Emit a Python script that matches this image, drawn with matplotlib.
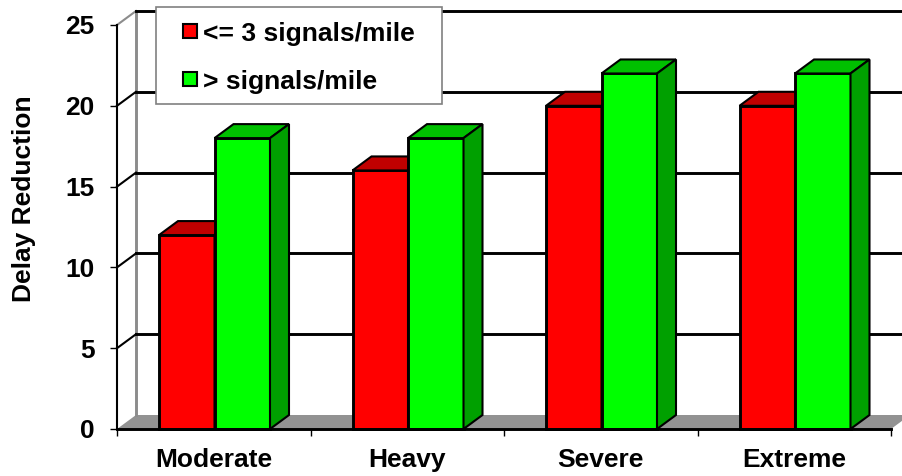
import matplotlib
matplotlib.use('Agg')
import matplotlib.pyplot as plt
from matplotlib.patches import Rectangle

plt.rcParams['font.family'] = ['Liberation Sans', 'DejaVu Sans']
plt.rcParams['font.weight'] = 'bold'
plt.rcParams['font.size'] = 19

categories = ['Moderate', 'Heavy', 'Severe', 'Extreme']
low_signals = [12, 16, 20, 20]
high_signals = [18, 18, 22, 22]
series_names = ['<= 3 signals/mile', '> signals/mile']
series_colors = ['#ff0000', '#00ff00']
yticks = [0, 5, 10, 15, 20, 25]

W, H = 902, 476
fig = plt.figure(figsize=(W / 100, H / 100), dpi=100, facecolor='white')
# front plane of the fake 3d box, in pixels: x 117-891, y 25-429
ax = fig.add_axes([117 / W, 1 - 429 / H, 774 / W, 404 / H])
ax.set_xlim(0, 4)
ax.set_ylim(0, 25)
ax.patch.set_visible(False)

# depth of the 3d effect in data units
dx = 19 / 193.5
dy = 14 / 16.16
lw = 2.1
xmax = 4

# floor and walls
ax.fill([0, dx, xmax + dx, xmax], [0, dy, dy, 0], color='#929292', lw=0, zorder=1, clip_on=False)
ax.plot([dx, dx], [dy, 25 + dy], color='#8c8c8c', lw=lw, zorder=1.5, clip_on=False)
ax.plot([0, dx], [25, 25 + dy], color='#8c8c8c', lw=1.5, zorder=1.5, clip_on=False)

# gridlines on the back wall plus the diagonal on the side wall
for v in yticks[1:]:
    ax.plot([dx, xmax + dx], [v + dy, v + dy], color='black', lw=lw, zorder=2, clip_on=False)
    if v < 25:
        ax.plot([0, dx], [v, v + dy], color='black', lw=1.5, zorder=2, clip_on=False)


def bar3d(x, w, h, front, top, side, z):
    ax.bar(x, h, w, align='edge', color=front, edgecolor='black', lw=lw, zorder=z, clip_on=False)
    ax.fill([x, x + dx, x + w + dx, x + w], [h, h + dy, h + dy, h], facecolor=top,
            edgecolor='black', lw=1.5, zorder=z, clip_on=False)
    ax.fill([x + w, x + w + dx, x + w + dx, x + w], [0, dy, h + dy, h], facecolor=side,
            edgecolor='black', lw=1.5, zorder=z, clip_on=False)


bar_w = 55.5 / 193.5
offset = 42 / 193.5
z = 3
for i in range(len(categories)):
    bar3d(i + offset, bar_w, low_signals[i], '#ff0000', '#c00000', '#a00000', z)
    bar3d(i + offset + bar_w, bar_w, high_signals[i], '#00ff00', '#00c000', '#00a000', z + 1)
    z += 2

# axes and ticks
for s in ['top', 'right']:
    ax.spines[s].set_visible(False)
ax.spines['bottom'].set_linewidth(lw)
ax.spines['bottom'].set_zorder(20)
ax.spines['left'].set_linewidth(1.5)
ax.spines['left'].set_zorder(20)

ax.set_yticks(yticks)
ax.tick_params(axis='y', length=5, width=1, pad=11)
ax.set_xticks(range(5))
ax.set_xticklabels([])
ax.set_xticks([i + 0.5 for i in range(4)], minor=True)
ax.set_xticklabels(categories, minor=True)
ax.tick_params(axis='x', which='major', length=5, width=1)
ax.tick_params(axis='x', which='minor', length=0, pad=14)
ax.set_ylabel('Delay Reduction', fontweight='bold')
ax.yaxis.set_label_coords(-81 / 774, 0.569)

# legend box, placed by hand since the padding is uneven
fig.add_artist(Rectangle((156 / W, 1 - 104 / H), 286 / W, 97 / H, transform=fig.transFigure,
                         facecolor='white', edgecolor='#808080', lw=1.2, zorder=30))
for name, color, ypix in zip(series_names, series_colors, [31, 79]):
    fig.add_artist(Rectangle((183 / W, 1 - (ypix + 7) / H), 14 / W, 14 / H, transform=fig.transFigure,
                             facecolor=color, edgecolor='black', lw=1.5, zorder=31))
    t = fig.text(203 / W, 1 - ypix / H, name, ha='left', va='center_baseline', zorder=31)

fig.savefig('out.png', dpi=100)
